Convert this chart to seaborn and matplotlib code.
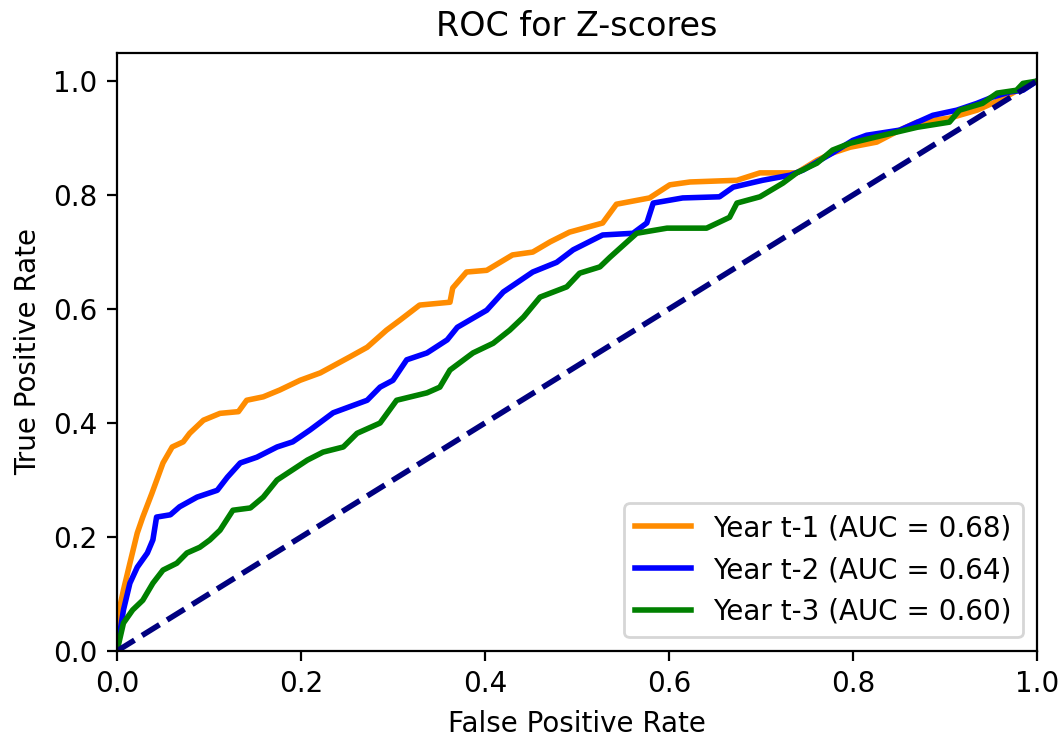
import matplotlib
matplotlib.use("Agg")
import matplotlib.pyplot as plt
import numpy as np
import pandas as pd
import seaborn as sns

# ROC curve points (false positive rate, true positive rate) per lag year
fpr_t1 = [0.0, 0.0, 0.007, 0.014, 0.022, 0.028, 0.038, 0.050, 0.060, 0.072, 0.079, 0.094,
          0.112, 0.132, 0.141, 0.159, 0.177, 0.199, 0.221, 0.253, 0.272, 0.293, 0.308,
          0.329, 0.362, 0.365, 0.380, 0.402, 0.430, 0.452, 0.471, 0.492, 0.528, 0.543,
          0.579, 0.601, 0.623, 0.674, 0.699, 0.739, 0.761, 0.778, 0.797, 0.826, 0.851,
          0.870, 0.905, 0.935, 0.960, 0.985, 1.0]
tpr_t1 = [0.0, 0.054, 0.107, 0.154, 0.207, 0.235, 0.277, 0.330, 0.358, 0.367, 0.382, 0.405,
          0.417, 0.420, 0.440, 0.446, 0.458, 0.475, 0.488, 0.516, 0.533, 0.563, 0.581,
          0.607, 0.612, 0.637, 0.665, 0.668, 0.695, 0.700, 0.718, 0.735, 0.751, 0.784,
          0.795, 0.818, 0.823, 0.826, 0.839, 0.839, 0.861, 0.874, 0.884, 0.893, 0.914,
          0.928, 0.935, 0.949, 0.967, 0.989, 1.0]

fpr_t2 = [0.0, 0.007, 0.014, 0.022, 0.033, 0.039, 0.043, 0.058, 0.068, 0.087, 0.109, 0.120,
          0.134, 0.152, 0.174, 0.191, 0.210, 0.235, 0.272, 0.286, 0.300, 0.315, 0.337,
          0.359, 0.370, 0.402, 0.420, 0.452, 0.478, 0.496, 0.528, 0.561, 0.576, 0.583,
          0.615, 0.655, 0.670, 0.702, 0.732, 0.746, 0.778, 0.800, 0.815, 0.851, 0.887,
          0.913, 0.935, 0.952, 0.971, 0.985, 1.0]
tpr_t2 = [0.0, 0.072, 0.119, 0.147, 0.172, 0.195, 0.235, 0.239, 0.253, 0.270, 0.282, 0.305,
          0.330, 0.340, 0.358, 0.367, 0.388, 0.418, 0.440, 0.463, 0.475, 0.511, 0.523,
          0.546, 0.568, 0.598, 0.630, 0.665, 0.682, 0.704, 0.730, 0.733, 0.751, 0.786,
          0.795, 0.797, 0.814, 0.826, 0.835, 0.844, 0.874, 0.896, 0.905, 0.914, 0.940,
          0.949, 0.961, 0.972, 0.981, 0.984, 1.0]

fpr_t3 = [0.0, 0.007, 0.017, 0.028, 0.039, 0.050, 0.065, 0.076, 0.090, 0.101, 0.112, 0.126,
          0.145, 0.159, 0.174, 0.191, 0.207, 0.224, 0.246, 0.261, 0.286, 0.304, 0.337,
          0.351, 0.362, 0.387, 0.409, 0.427, 0.442, 0.460, 0.489, 0.503, 0.525, 0.536,
          0.565, 0.598, 0.641, 0.666, 0.674, 0.699, 0.724, 0.739, 0.761, 0.778, 0.797,
          0.833, 0.870, 0.905, 0.916, 0.941, 0.957, 0.978, 0.985, 1.0]
tpr_t3 = [0.0, 0.049, 0.072, 0.089, 0.119, 0.142, 0.154, 0.172, 0.182, 0.195, 0.212, 0.247,
          0.251, 0.270, 0.300, 0.318, 0.335, 0.349, 0.358, 0.382, 0.400, 0.440, 0.453,
          0.463, 0.493, 0.523, 0.540, 0.563, 0.586, 0.621, 0.639, 0.663, 0.674, 0.691,
          0.733, 0.742, 0.742, 0.761, 0.786, 0.797, 0.821, 0.839, 0.856, 0.879, 0.891,
          0.905, 0.919, 0.928, 0.949, 0.961, 0.979, 0.984, 0.996, 1.0]

labels = ["Year t-1 (AUC = 0.68)", "Year t-2 (AUC = 0.64)", "Year t-3 (AUC = 0.60)"]
colors = ["darkorange", "blue", "green"]

frames = []
for lab, fx, ty in zip(labels, [fpr_t1, fpr_t2, fpr_t3], [tpr_t1, tpr_t2, tpr_t3]):
    frames.append(pd.DataFrame({"fpr": fx, "tpr": ty, "model": lab}))
df = pd.concat(frames, ignore_index=True)

DPI = 200
fig = plt.figure(figsize=(1059 / DPI, 736 / DPI), dpi=DPI)
ax = fig.add_axes([0.1105, 0.1155, 0.8685, 0.813])

for lab, col in zip(labels, colors):
    sub = df[df["model"] == lab]
    sns.lineplot(x=sub["fpr"].values, y=sub["tpr"].values, color=col, lw=2,
                 sort=False, estimator=None, label=lab, ax=ax)

# chance diagonal
ax.plot([0, 1], [0, 1], color="navy", lw=2, linestyle="--")

ax.set_xlim(0.0, 1.0)
ax.set_ylim(0.0, 1.05)
ax.set_xlabel("False Positive Rate")
ax.set_ylabel("True Positive Rate")
ax.set_title("ROC for Z-scores")
ax.legend(loc="lower right")

fig.savefig("out.png", dpi=DPI)
